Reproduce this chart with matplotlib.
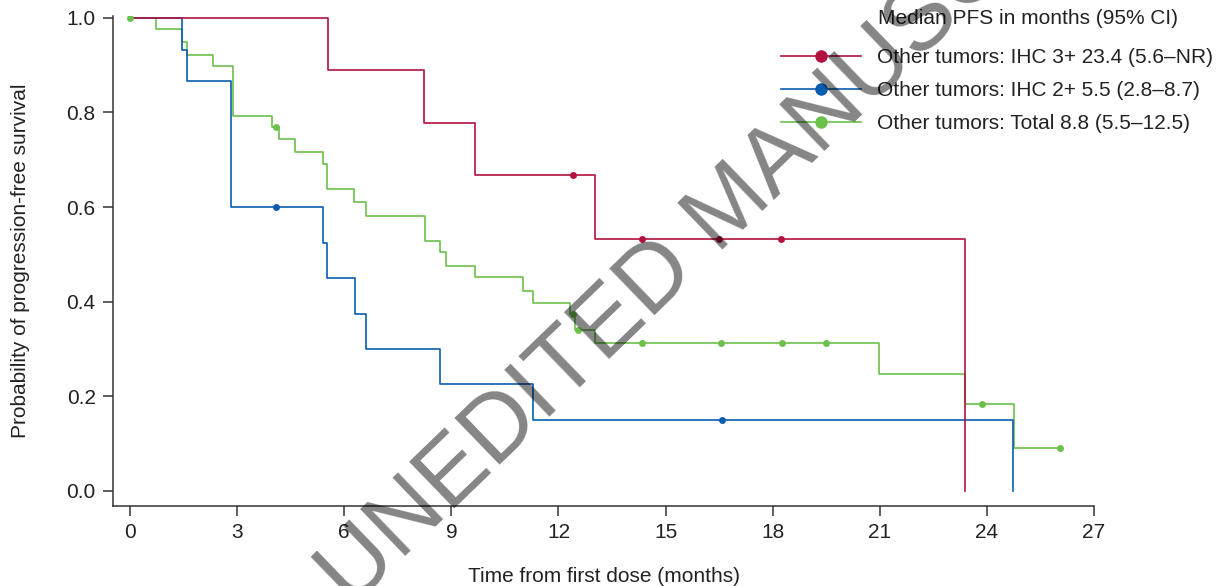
import numpy as np
import matplotlib.pyplot as plt
from matplotlib.lines import Line2D

plt.rcParams['font.family'] = ['Liberation Sans', 'DejaVu Sans']

# Kaplan-Meier step data (months, survival probability)
ihc3_t = [0, 5.54, 8.23, 9.65, 13.03, 23.40]
ihc3_s = [1.0, 0.889, 0.778, 0.667, 0.533, 0.0]
ihc3_cens_t = [12.41, 14.34, 16.51, 18.24]
ihc3_cens_s = [0.667, 0.533, 0.533, 0.533]

ihc2_t = [0, 1.46, 1.59, 2.83, 5.40, 5.53, 6.29, 6.62, 8.68, 11.29, 24.74]
ihc2_s = [1.0, 0.933, 0.867, 0.600, 0.525, 0.450, 0.375, 0.300, 0.225, 0.150, 0.0]
ihc2_cens_t = [4.10, 16.58]
ihc2_cens_s = [0.600, 0.150]

total_t = [0, 0.73, 1.46, 1.60, 2.33, 2.88, 3.97, 4.16, 4.63, 5.41, 5.53, 6.28,
           6.62, 8.26, 8.69, 8.86, 9.65, 11.02, 11.30, 12.33, 12.45, 13.03,
           20.98, 23.40, 24.75, 26.06]
total_s = [1.0, 0.976, 0.948, 0.922, 0.899, 0.793, 0.770, 0.744, 0.716, 0.691,
           0.638, 0.610, 0.581, 0.529, 0.504, 0.476, 0.452, 0.423, 0.397, 0.373,
           0.340, 0.312, 0.247, 0.184, 0.091, 0.091]
total_cens_t = [0, 4.10, 12.40, 12.55, 14.34, 16.54, 18.26, 19.49, 23.87, 26.06]
total_cens_s = [1.0, 0.770, 0.373, 0.340, 0.312, 0.312, 0.312, 0.312, 0.184, 0.091]

labels = ['Other tumors: IHC 3+ 23.4 (5.6\u2013NR)',
          'Other tumors: IHC 2+ 5.5 (2.8\u20138.7)',
          'Other tumors: Total 8.8 (5.5\u201312.5)']
colors = ['#B3123F', '#0B5DAF', '#6CC04C']
FS = 15

W, H = 1225, 586
fig = plt.figure(figsize=(W / 100, H / 100), dpi=100)
ax = fig.add_axes([113 / W, 1 - 506 / H, (1094 - 113) / W, (506 - 16) / H])

series = [(ihc3_t, ihc3_s, ihc3_cens_t, ihc3_cens_s),
          (ihc2_t, ihc2_s, ihc2_cens_t, ihc2_cens_s),
          (total_t, total_s, total_cens_t, total_cens_s)]
zorders = [3, 2, 1]
for (t, s, ct, cs), c, z in zip(series, colors, zorders):
    ax.step(t, s, where='post', color=c, lw=1.2, zorder=z)
    ax.plot(ct, cs, 'o', color=c, ms=5, mec='none', zorder=z + 3)

ax.set_xlim(-0.476, 27)
ax.set_ylim(-0.032, 1.004)
ax.set_xticks(np.arange(0, 28, 3))
ax.set_yticks(np.arange(0, 1.01, 0.2))
ax.set_yticklabels(['%.1f' % v for v in np.arange(0, 1.01, 0.2)])
for side in ['top', 'right']:
    ax.spines[side].set_visible(False)
for side in ['left', 'bottom']:
    ax.spines[side].set_color('#333333')
    ax.spines[side].set_linewidth(1.1)
ax.tick_params(axis='both', labelsize=FS, colors='#333333', labelcolor='#222222',
               length=7.5, width=1.1)
ax.tick_params(axis='y', pad=5)
ax.tick_params(axis='x', pad=5)
ax.set_xlabel('Time from first dose (months)', fontsize=FS, color='#222222', labelpad=18)
ax.set_ylabel('Probability of progression-free survival', fontsize=FS, color='#222222',
              labelpad=26)

handles = [Line2D([], [], color=c, lw=1.2, marker='o', ms=9, mec='none') for c in colors]
ax.legend(handles, labels, loc='upper left', bbox_to_anchor=(781 / W, 1 - 48 / H),
          bbox_transform=fig.transFigure, frameon=False, fontsize=FS,
          handlelength=3.85, handletextpad=0.77, labelspacing=0.68, borderpad=0,
          borderaxespad=0, labelcolor='#222222')
fig.text(878 / W, 1 - 18 / H, 'Median PFS in months (95% CI)', fontsize=FS,
         color='#222222', ha='left', va='center')

# watermark across the page
fig.text(351 / W, 1 - 608 / H, 'UNEDITED MANUSCRIPT', fontsize=68, color='black',
         alpha=0.48, rotation=44, rotation_mode='anchor', ha='left', va='baseline',
         zorder=10)

fig.savefig('out.png', dpi=100)
